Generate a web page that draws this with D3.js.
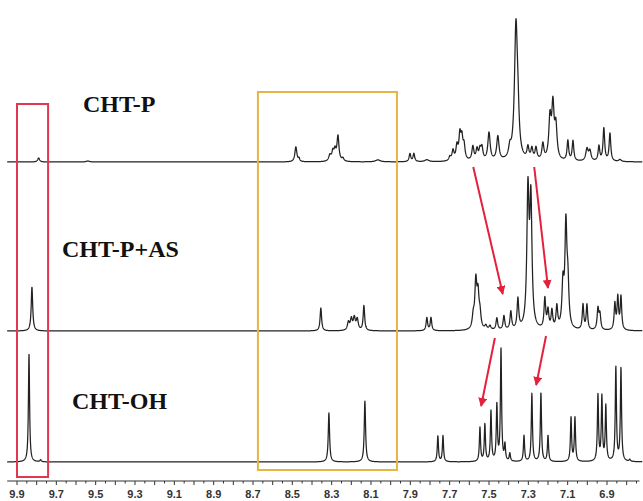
<!DOCTYPE html>
<html>
<head>
<meta charset="utf-8">
<script src="https://cdn.jsdelivr.net/npm/d3@7"></script>
<style>
  body { margin: 0; background: #fff; }
  svg { display: block; }
</style>
</head>
<body>
<div id="chart"></div>
<script>
// peaks: [ppm, height, half width (ppm)]
const peaksP = [
  [9.79, 4, 0.006], [9.54, 1, 0.01],
  [8.482, 15, 0.006], [8.466, 3, 0.004],
  [8.309, 6, 0.007], [8.294, 9, 0.006], [8.283, 10, 0.006], [8.268, 25, 0.006], [8.243, 3, 0.006],
  [8.065, 2, 0.014],
  [7.902, 8, 0.005], [7.882, 8, 0.005], [7.816, 2, 0.012],
  [7.699, 4, 0.006], [7.683, 10, 0.006], [7.663, 14, 0.006], [7.648, 24, 0.006], [7.638, 20, 0.006], [7.627, 14, 0.006],
  [7.582, 14, 0.006], [7.561, 11, 0.006], [7.546, 10, 0.006], [7.536, 12, 0.006],
  [7.500, 28, 0.007], [7.455, 24, 0.007],
  [7.394, 10, 0.007], [7.363, 132, 0.009], [7.353, 30, 0.007],
  [7.302, 12, 0.006], [7.282, 11, 0.006], [7.261, 12, 0.006], [7.226, 16, 0.006],
  [7.190, 40, 0.007], [7.175, 52, 0.007], [7.160, 32, 0.007],
  [7.099, 20, 0.005], [7.073, 20, 0.005],
  [7.002, 12, 0.007], [6.987, 10, 0.007],
  [6.941, 15, 0.005], [6.916, 33, 0.005], [6.885, 28, 0.005],
  [6.834, 2, 0.008]
];

const peaksPAS = [
  [9.824, 44, 0.0045],
  [8.355, 23, 0.0045],
  [8.215, 8, 0.006], [8.200, 11, 0.006], [8.185, 12, 0.006], [8.170, 11, 0.006], [8.136, 25, 0.0045],
  [7.816, 13, 0.0045], [7.795, 13, 0.0045],
  [7.580, 12, 0.006], [7.567, 46, 0.006], [7.556, 32, 0.006], [7.546, 14, 0.006],
  [7.516, 4, 0.006], [7.495, 4, 0.006],
  [7.460, 12, 0.005], [7.424, 14, 0.005], [7.389, 18, 0.005], [7.353, 30, 0.005],
  [7.302, 134, 0.0065], [7.287, 124, 0.0065],
  [7.216, 30, 0.005], [7.200, 18, 0.005], [7.180, 18, 0.005], [7.155, 22, 0.005],
  [7.124, 42, 0.006], [7.109, 100, 0.006], [7.099, 40, 0.006],
  [7.022, 25, 0.0045], [7.002, 25, 0.0045],
  [6.946, 21, 0.005], [6.936, 15, 0.005],
  [6.860, 26, 0.0045], [6.845, 32, 0.0045], [6.829, 33, 0.0045]
];

const peaksOH = [
  [9.839, 108, 0.0035], [9.78, 2, 0.004],
  [8.314, 49, 0.004], [8.131, 61, 0.004],
  [7.760, 26, 0.0035], [7.734, 26, 0.0035],
  [7.546, 34, 0.0035], [7.521, 37, 0.0035], [7.490, 50, 0.0035], [7.460, 56, 0.0035],
  [7.439, 112, 0.0035], [7.419, 16, 0.0035], [7.394, 8, 0.0035],
  [7.322, 26, 0.0035], [7.282, 68, 0.0035], [7.236, 69, 0.0035], [7.200, 26, 0.0035],
  [7.083, 44, 0.0035], [7.063, 44, 0.0035],
  [6.946, 66, 0.0035], [6.926, 64, 0.0035], [6.906, 55, 0.0035],
  [6.855, 94, 0.0035], [6.829, 93, 0.0035], [6.784, 2, 0.004]
];

const traceNames = ["CHT-P", "CHT-P+AS", "CHT-OH"];
const tickLabels = [9.9, 9.7, 9.5, 9.3, 9.1, 8.9, 8.7, 8.5, 8.3, 8.1, 7.9, 7.7, 7.5, 7.3, 7.1, 6.9];

// highlighted regions (ppm) and shift arrows [from ppm, from y, to ppm, to y]
const redBox = [9.9, 9.742];
const yellowBox = [8.675, 7.968];
const arrows = [
  [7.58, 167, 7.43, 294],
  [7.27, 167, 7.20, 288],
  [7.47, 338, 7.54, 406],
  [7.21, 336, 7.26, 385]
];

const W = 643, H = 501;
const svg = d3.select("#chart").append("svg")
  .attr("width", W).attr("height", H);

const x = d3.scaleLinear().domain([9.9, 6.9]).range([17, 607]);
const y = d3.scaleLinear().domain([0, 150]).range([0, 150]);
const baselines = [162, 331, 462];

const spectra = [peaksP, peaksPAS, peaksOH];

// lorentzian lineshape summed over each peak list
function intensity(peaks, p) {
  let s = 0;
  for (const [c, h, w] of peaks) s += h * w * w / ((p - c) * (p - c) + w * w);
  return s;
}
const grid = d3.range(9.95, 6.72, -0.0008);

spectra.forEach((peaks, i) => {
  const pts = grid.map(p => [p, intensity(peaks, p)]);
  const line = d3.line()
    .x(d => x(d[0]))
    .y(d => baselines[i] - y(d[1]));
  svg.append("path")
    .datum(pts)
    .attr("d", line)
    .attr("fill", "none")
    .attr("stroke", "#222")
    .attr("stroke-width", 1.25)
    .attr("stroke-linejoin", "round");
});

// labels
const labelPos = [[83, 112], [62, 257], [72, 409]];
svg.selectAll(".name")
  .data(traceNames)
  .enter().append("text")
  .attr("x", (d, i) => labelPos[i][0])
  .attr("y", (d, i) => labelPos[i][1])
  .attr("font-family", "'Liberation Serif', 'Times New Roman', serif")
  .attr("font-weight", "bold")
  .attr("font-size", "24px")
  .attr("fill", "#111")
  .text(d => d);

// boxes
svg.append("rect")
  .attr("x", x(redBox[0])).attr("y", 104)
  .attr("width", x(redBox[1]) - x(redBox[0])).attr("height", 373)
  .attr("fill", "none").attr("stroke", "#e0384f").attr("stroke-width", 2);

svg.append("rect")
  .attr("x", x(yellowBox[0])).attr("y", 92)
  .attr("width", x(yellowBox[1]) - x(yellowBox[0])).attr("height", 378)
  .attr("fill", "none").attr("stroke", "#e8b444").attr("stroke-width", 2);

// arrows
svg.append("defs").append("marker")
  .attr("id", "head")
  .attr("viewBox", "0 0 10 10")
  .attr("refX", 9).attr("refY", 5)
  .attr("markerWidth", 4.5).attr("markerHeight", 4.5)
  .attr("markerUnits", "strokeWidth")
  .attr("orient", "auto")
  .append("path")
  .attr("d", "M0,0 L10,5 L0,10 Z")
  .attr("fill", "#e3213d");

svg.selectAll(".arrow")
  .data(arrows)
  .enter().append("line")
  .attr("x1", d => x(d[0])).attr("y1", d => d[1])
  .attr("x2", d => x(d[2])).attr("y2", d => d[3])
  .attr("stroke", "#e3213d")
  .attr("stroke-width", 2)
  .attr("marker-end", "url(#head)");

// ppm axis
const axisY = 481;
const axis = svg.append("g");
axis.append("line")
  .attr("x1", x(9.95)).attr("x2", x(6.735))
  .attr("y1", axisY).attr("y2", axisY)
  .attr("stroke", "#333").attr("stroke-width", 1.2);

const ticks = d3.range(99, 67, -1).map(v => v / 10).concat(d3.range(99, 67, -1).map(v => (v - 0.5) / 10));
axis.selectAll(".tk")
  .data(ticks)
  .enter().append("line")
  .attr("x1", d => x(d)).attr("x2", d => x(d))
  .attr("y1", axisY)
  .attr("y2", d => axisY + (Math.abs(d * 10 - Math.round(d * 10)) < 1e-6 ? 4 : 2.5))
  .attr("stroke", "#333").attr("stroke-width", 1);

axis.selectAll(".lbl")
  .data(tickLabels)
  .enter().append("text")
  .attr("x", d => x(d))
  .attr("y", 498)
  .attr("text-anchor", "middle")
  .attr("font-family", "'Liberation Sans', Arial, sans-serif")
  .attr("font-weight", "bold")
  .attr("font-size", "11px")
  .attr("fill", "#333")
  .text(d => d.toFixed(1));
</script>
</body>
</html>
